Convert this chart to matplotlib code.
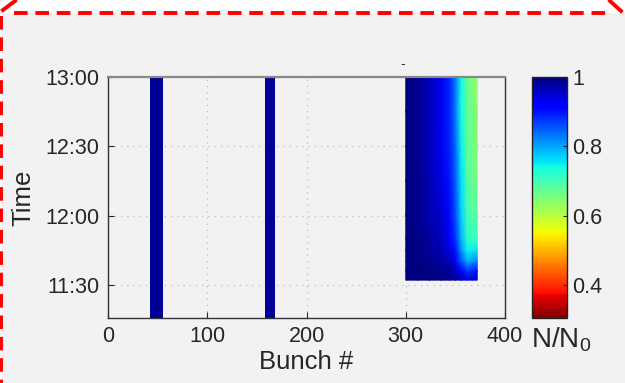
import numpy as np
import matplotlib
matplotlib.use("Agg")
import matplotlib.pyplot as plt
from matplotlib.colors import Normalize
from matplotlib.lines import Line2D
from matplotlib.patches import Rectangle

plt.rcParams['font.family'] = ['Liberation Sans', 'DejaVu Sans']
plt.rcParams['mathtext.fontset'] = 'custom'
plt.rcParams['mathtext.rm'] = 'Liberation Sans'
plt.rcParams['mathtext.it'] = 'Liberation Sans'

# ---------------- data ----------------
# isolated bunch trains (start, end bunch #), value N/N0
bar_start = [42.3, 158.0]
bar_end = [55.0, 168.5]
bar_value = [0.985, 0.985]

# bunch train heat map: bunch positions (columns) and times (hours, rows)
train_bunch = [300, 312, 324, 336, 344, 350, 356, 362, 367, 372]
train_time = [11 + 32/60, 11 + 36/60, 11 + 40/60, 11 + 45/60, 11 + 50/60,
              12.0, 12.25, 12.5, 12.75, 13.0]
train_values = [
    [1.00, 1.00, 1.00, 1.00, 0.99, 0.98, 0.96, 0.94, 0.95, 0.96],  # 11:32
    [1.00, 1.00, 1.00, 0.99, 0.98, 0.97, 0.92, 0.88, 0.89, 0.91],  # 11:36
    [1.00, 1.00, 0.99, 0.98, 0.97, 0.93, 0.86, 0.80, 0.81, 0.83],  # 11:40
    [1.00, 1.00, 0.98, 0.97, 0.94, 0.90, 0.81, 0.75, 0.75, 0.76],  # 11:45
    [1.00, 0.995, 0.98, 0.96, 0.92, 0.88, 0.79, 0.72, 0.71, 0.71],  # 11:50
    [1.00, 0.99, 0.97, 0.95, 0.91, 0.86, 0.77, 0.70, 0.69, 0.68],  # 12:00
    [1.00, 0.99, 0.97, 0.94, 0.90, 0.85, 0.76, 0.69, 0.67, 0.66],  # 12:15
    [1.00, 0.99, 0.96, 0.93, 0.89, 0.84, 0.75, 0.68, 0.66, 0.65],  # 12:30
    [1.00, 0.99, 0.96, 0.93, 0.89, 0.83, 0.74, 0.68, 0.66, 0.64],  # 12:45
    [1.00, 0.99, 0.96, 0.93, 0.89, 0.83, 0.74, 0.67, 0.65, 0.63],  # 13:00
]

x_ticks = [0, 100, 200, 300, 400]
y_ticks = [11.5, 12.0, 12.5, 13.0]
y_ticklabels = ["11:30", "12:00", "12:30", "13:00"]
cb_ticks = [0.4, 0.6, 0.8, 1.0]
cb_ticklabels = ["0.4", "0.6", "0.8", "1"]

# ---------------- figure ----------------
W, H = 625, 383
fig = plt.figure(figsize=(W / 100, H / 100), dpi=100, facecolor='white')

def fx(px):
    return px / W

def fy(py):
    return 1 - py / H

# gray panel and red dashed border
fig.patches.append(Rectangle((fx(2), 0), 1, fy(13), transform=fig.transFigure,
                             facecolor='#f2f2f2', edgecolor='none', zorder=-10))
red_kw = dict(color='#ff0000', lw=2.8, ls=(0, (3.5, 2.0)), transform=fig.transFigure)
fig.add_artist(Line2D([fx(14), fx(612)], [fy(13), fy(13)], **red_kw))
fig.add_artist(Line2D([fx(1.5), fx(1.5)], [fy(16), 0], **red_kw))
fig.add_artist(Line2D([fx(3), fx(15)], [fy(10), fy(1)], color='#ff0000', lw=2.8,
                      transform=fig.transFigure))
fig.add_artist(Line2D([fx(610), fx(621)], [fy(1), fy(11)], color='#ff0000', lw=2.8,
                      transform=fig.transFigure))

cmap = plt.get_cmap('jet_r')
norm = Normalize(vmin=0.305, vmax=1.0)

ax = fig.add_axes([fx(108), fy(318), fx(505) - fx(108), fy(77) - fy(318)])
ax.set_facecolor('none')

for s, e, v in zip(bar_start, bar_end, bar_value):
    ax.bar((s + e) / 2, 13.0 - 11.0, bottom=11.0, width=e - s,
           color=cmap(norm(v)), edgecolor='none', zorder=2)

X, Y = np.meshgrid(train_bunch, train_time)
mesh = ax.pcolormesh(X, Y, np.array(train_values), cmap=cmap, norm=norm,
                     shading='gouraud', zorder=2)

ax.set_xlim(0, 400)
ax.set_ylim(11.26, 13.0)
ax.set_xticks(x_ticks)
ax.set_yticks(y_ticks)
ax.set_yticklabels(y_ticklabels)
ax.grid(True, color='#bdbdbd', ls=(0, (1, 4)), lw=0.9)
ax.set_axisbelow(True)
ax.tick_params(direction='in', length=4, width=0.8, labelsize=15.5,
               colors='#262626', pad=6, top=False, right=False)
for sp in ax.spines.values():
    sp.set_color('#333333')
    sp.set_linewidth(1.0)
ax.spines['top'].set_color('#888888')
ax.spines['top'].set_linewidth(1.6)
ax.set_xlabel('Bunch #', fontsize=18.5, color='#262626', labelpad=2)
ax.set_ylabel('Time', fontsize=18.5, color='#262626', labelpad=7)

cax = fig.add_axes([fx(532), fy(318), fx(567) - fx(532), fy(77) - fy(318)])
cb = fig.colorbar(mesh, cax=cax, ticks=cb_ticks)
cb.set_ticklabels(cb_ticklabels)
cb.outline.set_edgecolor('#222222')
cb.outline.set_linewidth(1.0)
cax.tick_params(direction='in', length=3, width=0.8, labelsize=15.5,
                colors='#262626', pad=4)

fig.text(fx(531), fy(348), r'N/N$_0$', fontsize=20, color='#262626',
         ha='left', va='baseline')
fig.text(fx(403), fy(64), '-', fontsize=10, color='#333333', ha='center', va='center')

fig.savefig('out.png', dpi=100, facecolor=fig.get_facecolor())
